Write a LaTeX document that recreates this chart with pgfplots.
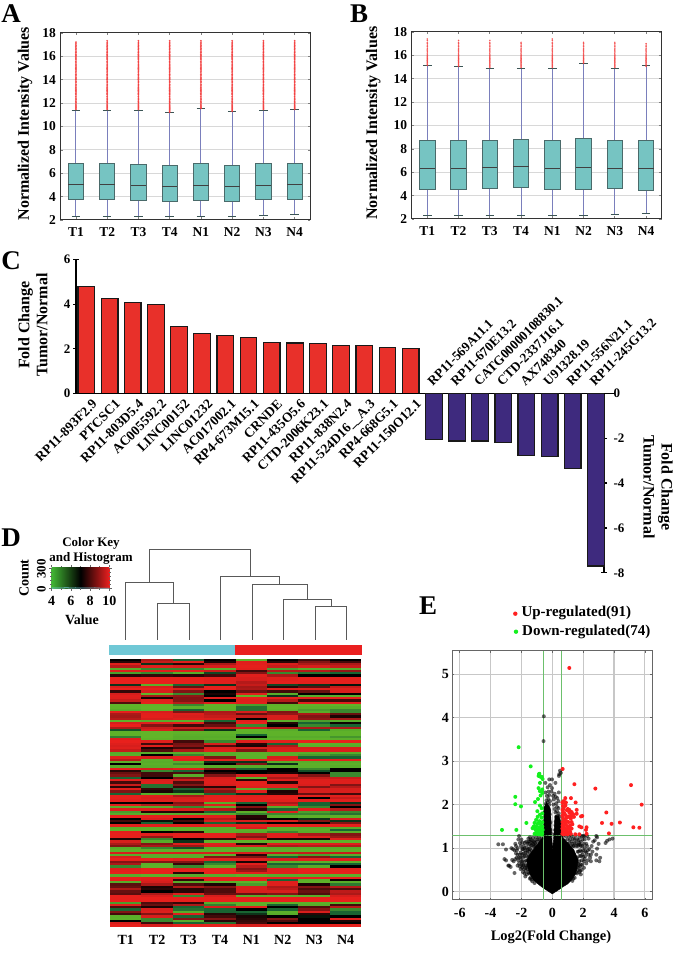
\documentclass[border=0pt]{standalone}
\usepackage{fontspec}
\usepackage{pgfplots}
\usepackage{pgfplotstable}
\pgfplotsset{compat=1.18}
\usepgfplotslibrary{statistics}
\setmainfont{Liberation Serif}
\newcommand\fs[1]{\fontsize{#1}{#1}\selectfont\bfseries}
\definecolor{boxfill}{HTML}{76C4C2}
\definecolor{boxedge}{HTML}{4A6A6A}
\definecolor{whisk}{HTML}{7A7FBC}
\definecolor{barred}{HTML}{E8302A}
\definecolor{barblue}{HTML}{3E2A7E}
\definecolor{gridg}{HTML}{D8D8D8}
\definecolor{outl}{HTML}{F23A3A}
\definecolor{volgreen}{HTML}{6CC06C}
\definecolor{keygreen}{HTML}{42B534}
\definecolor{annocyan}{HTML}{70C8D6}
\definecolor{annored}{HTML}{EA2020}
\definecolor{dotred}{HTML}{FF2020}
\definecolor{dotgreen}{HTML}{14F01E}
\pgfdeclareplotmark{cell}{\pgfpathrectangle{\pgfqpoint{-15.8pt}{-1.25pt}}{\pgfqpoint{31.6pt}{2.5pt}}\pgfusepathqfill}
\pgfdeclareplotmark{dot}{\pgfpathcircle{\pgfpointorigin}{\pgfplotmarksize}\pgfusepathqfill}
\pgfplotsset{
  boxplot/draw/lower whisker/.code={
    \draw[whisk,line width=1pt] (boxplot box cs:\pgfplotsboxplotvalue{lower whisker},0.5) -- (boxplot box cs:\pgfplotsboxplotvalue{lower quartile},0.5);
    \draw[boxedge!80!black,line width=.8pt] (boxplot whisker cs:\pgfplotsboxplotvalue{lower whisker},0) -- (boxplot whisker cs:\pgfplotsboxplotvalue{lower whisker},1);},
  boxplot/draw/upper whisker/.code={
    \draw[whisk,line width=1pt] (boxplot box cs:\pgfplotsboxplotvalue{upper whisker},0.5) -- (boxplot box cs:\pgfplotsboxplotvalue{upper quartile},0.5);
    \draw[boxedge!80!black,line width=.8pt] (boxplot whisker cs:\pgfplotsboxplotvalue{upper whisker},0) -- (boxplot whisker cs:\pgfplotsboxplotvalue{upper whisker},1);},
  mybox/.style={
    scale only axis, width=250pt, height=187pt,
    xmin=-0.5, xmax=7.5, ymin=2, ymax=18,
    xtick={0,...,7}, xticklabels={T1,T2,T3,T4,N1,N2,N3,N4},
    ytick={2,4,...,18},
    ymajorgrids, grid style={gridg,line width=1pt},
    axis line style={black!80,line width=1pt},
    tick style={black!50,line width=.7pt},
    major tick length=2.5pt,
    /pgf/number format/assume math mode=true,
    tick label style={font=\fs{13.5}},
    xticklabel style={yshift=-4.5pt},
    yticklabel style={xshift=-1pt},
    boxplot/draw direction=y,
    boxplot/box extend=0.49, boxplot/whisker extend=0.27,
    boxplot/every box/.style={draw=boxedge,fill=boxfill,line width=.9pt},
    boxplot/every median/.style={draw=black!75,line width=.9pt},
    clip=false,
  },
}
\newcommand\bx[6]{\addplot[boxplot prepared={draw position=#1,lower whisker=#2,lower quartile=#3,median=#4,upper quartile=#5,upper whisker=#6}] coordinates {};}
\newcommand\outp[4]{\addplot[only marks,mark=dot,mark size=.95pt,color=outl,mark options={fill=outl,fill opacity=.9},restrict y to domain=#3:#4] table[x expr=#2,y=v] {#1};}
\newcommand\outq[4]{\addplot[only marks,mark=dot,mark size=.85pt,color=outl,mark options={fill=outl,fill opacity=.85},restrict y to domain=#3:#4] table[x expr=#2,y=v] {#1};}
\pgfplotstableread{
v
11.22 
11.30 
11.38 
11.46 
11.55 
11.63 
11.72 
11.80 
11.90 
12.00 
12.08 
12.15 
12.26 
12.34 
12.42 
12.53 
12.60 
12.72 
12.80 
12.88 
13.00 
13.08 
13.16 
13.27 
13.35 
13.46 
13.54 
13.62 
13.74 
13.82 
13.90 
14.02 
14.10 
14.20 
14.31 
14.40 
14.47 
14.58 
14.68 
14.76 
14.88 
14.96 
15.05 
15.16 
15.25 
15.33 
15.44 
15.52 
15.60 
15.72 
15.80 
15.88 
16.00 
16.07 
16.16 
16.28 
16.35 
16.44 
16.55 
16.62 
16.70 
16.80 
16.88 
16.96 
17.05 
17.14 
17.22 
17.34 
}\outA
\pgfplotstableread{
v
14.95
15.05
15.14
15.22
15.32
15.40
15.48
15.56
15.66
15.74
15.80
15.90
16.00
16.10
16.20
16.30
16.40
16.52
16.62
16.75
16.88
17.00
17.12
17.28
17.40
}\outB
\pgfplotstableread{
c0 c1 c2 c3 c4 c5 c6 c7
7 8.5 6 7 4.5 7 7.5 7
7.3 8.8 9.5 7.2 9.5 7.3 8 7.5
9.5 6.5 7.3 8.5 9.6 9 8.5 8.5
8.6 9.6 9 9 9.8 8.8 9 8.8
5 5.5 5.5 4.8 9.6 5.2 5 5
9.2 9.6 9.6 8.8 7.5 8.6 8.6 8.2
5.2 5.5 5 6.3 8 5.5 5.8 6
7.3 7.4 7.3 7.5 9.5 8.5 7 7
10 10 10 9.6 9 9.6 10 9.8
10 10 10 9.6 9 9.6 10 9.8
10 10 10 9.6 8.6 9.8 9.8 9.8
6.5 4.8 6 6.5 8.8 6.3 6.5 6.8
9 9 7.8 9.8 8.4 7.3 7.7 8.8
10 9.8 9 9.8 8.5 9.4 9.5 9.4
7.4 9 8 7 7.8 7.5 7.8 9
9 4.5 5.5 7.2 9.5 5 7 7
9.6 8.5 8.2 7 4.5 6.5 5 4.8
9.4 7.2 8 9.6 9.8 9.8 9.6 9.8
8.8 9.6 8 7 9.4 8.6 7.5 7.5
7.6 9.8 8.6 9.4 9.6 7.5 9.8 9.6
4.5 4.5 5.5 4.5 5.2 4.5 4.5 4.5
4.6 4.4 4.8 4.6 5.8 4.4 4.8 5
5 4.5 6 4.7 5.8 4.6 5.2 5.5
9.8 9 8 8.5 9 8 5 5.5
8.5 9.6 9.4 8.6 7.8 8.2 8.5 7.8
8.4 9.7 9 8.8 8.8 9 8 7.2
8.6 9 9.5 9.2 7 9 8.2 8.4
4.6 5 4.8 6 9.5 4.8 5.2 5
9 9.5 9.8 7.5 10 7.3 6 7.1
10 8 7.5 7.8 5.5 7 5.5 6
8.5 8.8 8.8 8.8 9 8.5 8.5 8.5
6.2 9 8 6.5 4.5 5 6 5
4.6 4.4 4.6 4.6 4.6 4.6 4.6 4.6
4.6 4.4 4.8 4.8 6 4.6 4.6 4.6
5.6 4.4 5 5 7 5 5 5.3
9.5 4.6 5 4.8 5 4.6 4.6 4.8
10 9.6 7.5 5.5 9.5 9.8 10 10
9.5 7.5 7.9 9 7.3 6 4.6 4.8
9 9.5 8 7.6 7.2 8.5 4.8 5
9.5 7.2 7.5 9 9 9 9 9
8.8 7.6 8.5 9.5 8 9.2 9.3 9.2
5 5 5 5 4.8 5 5 5
4.8 7 5.5 5 4.7 5 5.2 5.5
9.6 9 10 8 4.8 9 6 6
8.6 4.8 9.6 9.8 9.8 9.8 9.8 9.8
4.7 5 5 6.5 6.5 5 5 5
7 4.8 5.4 7 8 6.5 4.7 4.7
5 5 4.8 5 5 4.8 4.8 5
10 9 9.8 8 6 7 5.5 7
7.3 5.5 6 7 7 7 6.2 7
7.8 7.5 7.6 7.3 7 7.2 7 5.5
8 7.5 5 8 9 9 8 5.5
6 7 8 9 4.6 8.5 8.8 8.8
9.6 9.2 8.8 9.4 7.3 9.4 9.4 9.4
7.5 9.4 7.6 9.4 9.8 7.3 9.5 9.5
8.8 5.8 8 9 9.8 9.6 9.2 8
7.3 5.8 7.4 7.3 9.4 9.7 8 8.6
9.4 7.4 6 8.5 4.8 5.5 9 9
8 7.2 6.5 8 9.5 7.2 9 9
6 5 5 6 6.5 7.3 7.8 7.5
10 9.5 8.5 9.8 9.6 9.8 9.8 9.6
10 9.2 9 10 9.8 10 7 8.8
9.7 9.4 9.3 10 9.8 9.7 9.7 9.7
7 7 8 5 6 8.5 6 6.5
9.5 8.6 8.4 9.4 7 9 6 8
5 5 5.5 5 8 5 5.5 7
9.3 9.4 9 8.6 7.3 6 9.5 8.6
5.2 7.3 7.3 6 4.7 9.5 5.2 5.5
5 4.8 5 5 5.5 5.5 5.5 5.8
10 9.9 9.9 9.6 7.3 5 4.7 4.7
7 9 7 8.6 7.2 7 6.5 9
7.5 6.8 7.5 9 9 9 8 6.5
7 6 7 6 6.5 7 7 8
9.6 9.6 9.6 9.4 9.8 9.8 9.8 9.8
4.8 4.7 4.7 4.8 9 4.8 5 5
4.6 4.6 4.6 4.8 4.8 4.8 4.8 6
9.6 7 7.3 4.8 5 5.5 5 5
9.8 9.6 9.8 9.8 8.5 9.5 8.5 8
9.8 8.2 9.7 9.8 8 9.6 9.3 8.3
7.2 5.5 7 7.4 9 7.2 7.2 9.5
9 5 6.5 4.6 4.6 4.6 4.6 4.6
8.5 8 9.3 9.4 7.3 9.5 9.5 9.5
8 8.5 8.3 9 9 8.5 8.6 8.6
5 5.5 6.2 5 4.8 5 5 5
4.7 4.7 4.7 4.7 5 4.7 4.7 4.7
9 9 9 9 9 8.8 8.8 8.8
5 5 5 4.8 7.3 5 5.2 5
9 5 5 8 8 6 8 6
10 10 9.5 9.6 9.5 9 9.6 9.6
8 8 8 6 7.2 4.8 4.8 4.8
8.5 4.8 7.4 5.5 9.6 6 6 6
5.5 4.6 5.5 4.7 8.6 5.5 5 7
9.5 10 9.5 10 8 9.5 9.8 9.8
9.6 10 9.8 10 8.3 9.4 10 9.7
9.8 10 7.3 10 9.8 9.6 9.8 9.8
5 4.7 5 5 4.7 5 5 4.8
10 9.7 10 10 10 10 10 10
9.8 9.5 7.4 9.8 9.8 6 4.8 7.1
5 9 5 4.7 4.6 9.5 4.6 5
7.7 8.5 7.6 7.2 5.2 9.5 7.2 5.7
7.8 7.2 8.5 8 9.2 8.5 8 8.6
8.5 7.3 7.3 7.6 9.2 8.7 7.6 7.6
7.8 7 7.3 7.6 9 9 7.8 8.7
7.7 8.5 9.4 7.8 7.8 8 7.6 8.5
10 9 5.5 9 5 5 5 9
10 10 10 10 10 10 10 10
10 10 10 10 9.9 10 10 10
5.2 7.6 7.4 5 4.7 4.7 4.8 4.6
9.4 7.8 8.5 5.6 4.8 6 5 7.5
7.6 7.2 6 9 9.6 7 7.6 8.6
6 9 5.8 6 7 6 8 5.5
8 9.3 5 6 6 4.8 9 6
7.5 8 9.3 7.3 6.5 5 7.3 6
4.8 9 6 7.5 7.2 7 6.8 7
4.7 5.5 8 8 7.3 8 7 9.5
7 5.5 5 7.3 7.4 7.6 7 7.2
9 7.5 6 5.8 7.5 7 7 7
10 9 9.8 9.8 9 9.6 9.8 9.8
}\heat
\begin{document}
\begin{tikzpicture}[x=1pt,y=1pt]
\useasboundingbox (0,0) rectangle (685pt,958pt);
% Panel A
\begin{axis}[mybox, at={(60.3pt,738pt)}, anchor=south west,
  ylabel={Normalized Intensity Values},
  y label style={font=\fs{16},at={(axis description cs:-0.141,0.514)},anchor=center}]
\outp{\outA}{0}{11.40}{17.30}
\outp{\outA}{1}{11.40}{17.35}
\outp{\outA}{2}{11.40}{17.35}
\outp{\outA}{3}{11.20}{17.35}
\outp{\outA}{4}{11.55}{17.35}
\outp{\outA}{5}{11.25}{17.35}
\outp{\outA}{6}{11.40}{17.35}
\outp{\outA}{7}{11.45}{17.35}
\bx{0}{2.31}{3.77}{5.06}{6.86}{11.40}
\bx{1}{2.31}{3.77}{5.05}{6.83}{11.40}
\bx{2}{2.31}{3.70}{4.97}{6.77}{11.40}
\bx{3}{2.31}{3.60}{4.90}{6.65}{11.17}
\bx{4}{2.31}{3.70}{4.97}{6.85}{11.55}
\bx{5}{2.31}{3.60}{4.90}{6.70}{11.25}
\bx{6}{2.40}{3.75}{4.97}{6.83}{11.40}
\bx{7}{2.50}{3.80}{5.05}{6.86}{11.45}
\end{axis}
% Panel B
\begin{axis}[mybox, at={(411.7pt,739pt)}, anchor=south west,
  ylabel={Normalized Intensity Values},
  y label style={font=\fs{16},at={(axis description cs:-0.154,0.513)},anchor=center}]
\outq{\outB}{0}{15.10}{17.45}
\outq{\outB}{1}{15.05}{17.35}
\outq{\outB}{2}{14.90}{17.35}
\outq{\outB}{3}{14.90}{17.25}
\outq{\outB}{4}{14.90}{17.45}
\outq{\outB}{5}{15.30}{17.25}
\outq{\outB}{6}{14.90}{17.15}
\outq{\outB}{7}{15.05}{17.05}
\bx{0}{2.31}{4.49}{6.34}{8.74}{15.17}
\bx{1}{2.31}{4.54}{6.34}{8.74}{15.09}
\bx{2}{2.34}{4.63}{6.43}{8.74}{14.91}
\bx{3}{2.34}{4.69}{6.46}{8.77}{14.91}
\bx{4}{2.31}{4.54}{6.34}{8.71}{14.91}
\bx{5}{2.31}{4.54}{6.43}{8.89}{15.34}
\bx{6}{2.43}{4.60}{6.34}{8.74}{14.91}
\bx{7}{2.49}{4.46}{6.29}{8.74}{15.11}
\end{axis}
% Panel C upper
\begin{axis}[at={(76pt,564.7pt)}, anchor=south west, scale only axis, width=528pt, height=133.6pt,
  xmin=-0.45, xmax=22.35, ymin=0, ymax=6,
  axis y line=left, axis x line=bottom, axis line style={-,black,line width=1.5pt},
  xtick={0,...,14},
  xticklabels={RP11-893F2.9,PTCSC1,RP11-803D5.4,AC005592.2,LINC00152,LINC01232,AC017002.1,RP4-673M15.1,CRNDE,RP11-435O5.6,CTD-2006K23.1,RP11-838N2.4,RP11-524D16\_\_A.3,RP4-668G5.1,RP11-150O12.1},
  ytick={0,2,4,6},
  x tick style={draw=none}, y tick style={black,line width=1.2pt}, major tick length=6pt,
  /pgf/number format/assume math mode=true,
  yticklabel style={font=\fs{13},xshift=1pt},
  xticklabel style={font=\fs{13.5},rotate=45,anchor=north east,inner sep=0pt,xshift=4pt,yshift=-3pt},
  ybar, bar width=16.7pt, clip=false]
\addplot[fill=barred,draw=black!90,line width=1.2pt,bar shift=0pt] coordinates {(0,4.79)(1,4.27)(2,4.06)(3,4.00)(4,2.99)(5,2.68)(6,2.59)(7,2.51)(8,2.27)(9,2.26)(10,2.22)(11,2.16)(12,2.14)(13,2.04)(14,2.02)};
\end{axis}
% Panel C lower
\begin{axis}[at={(76pt,385.2pt)}, anchor=south west, scale only axis, width=528pt, height=179.5pt,
  xmin=-0.45, xmax=22.35, ymin=-8, ymax=0,
  axis y line=right, axis x line=top, axis line style={-,black,line width=1.5pt},
  xtick={15,...,22},
  xticklabels={RP11-569A11.1,RP11-670E13.2,CATG00000108830.1,CTD-2337J16.1,AX748340,U91328.19,RP11-556N21.1,RP11-245G13.2},
  ytick={-8,-6,-4,-2,0},
  x tick style={draw=none}, y tick style={black,line width=1.2pt}, major tick length=6pt,
  /pgf/number format/assume math mode=true,
  yticklabel style={font=\fs{13},xshift=3pt},
  xticklabel style={font=\fs{13.2},rotate=45,anchor=south west,inner sep=0pt,xshift=0pt,yshift=1pt},
  ybar, bar width=16.7pt, clip=false]
\addplot[fill=barblue,draw=black!90,line width=1.2pt,bar shift=0pt] coordinates {(15,-2.05)(16,-2.13)(17,-2.13)(18,-2.19)(19,-2.77)(20,-2.83)(21,-3.35)(22,-7.7)};
\end{axis}
% Panel D heatmap
\begin{axis}[at={(110pt,31.3pt)}, anchor=south west, scale only axis, width=251.3pt, height=268pt,
  xmin=-0.5, xmax=7.5, ymin=0, ymax=118, y dir=reverse,
  axis line style={draw=none}, major tick length=0pt, ytick=\empty,
  xtick={0,...,7}, xticklabels={T1,T2,T3,T4,N1,N2,N3,N4},
  xticklabel style={font=\fs{14},yshift=-5pt},
  colormap={hm}{rgb255(0cm)=(104,186,40); rgb255(1cm)=(88,172,42); rgb255(2cm)=(25,100,50); rgb255(3cm)=(0,0,0); rgb255(4cm)=(130,20,20); rgb255(5cm)=(215,30,28); rgb255(6cm)=(232,32,28)},
  point meta min=4, point meta max=10, clip=false]
\pgfplotsinvokeforeach{0,...,7}{
\addplot[scatter,only marks,mark=cell,scatter src=explicit,scatter/use mapped color={draw=none,fill=mapped color}] table[x expr=#1,y expr=\coordindex+0.5,meta=c#1] {\heat};
}
\end{axis}
% Colour key
\begin{axis}[at={(51.7pt,369.7pt)}, anchor=south west, scale only axis, width=57.6pt, height=21pt,
  xmin=4, xmax=10, ymin=0, ymax=310, axis on top,
  xtick={4,6,8,10}, ytick={0,300}, minor y tick num=4, minor x tick num=1,
  axis line style={draw=none}, tick style={black!60,line width=.7pt},
  tick align=outside, major tick length=2.5pt, minor tick length=1.5pt,
  x tick label style={font=\fs{14},yshift=-2pt},
  y tick label style={font=\fs{13},rotate=90,anchor=south,xshift=-1pt},
  /pgf/number format/assume math mode=true,
  ]
\fill[left color=keygreen,right color=annored,middle color=black] (axis cs:4,0) rectangle (axis cs:10,310);
\addplot[annocyan,line width=.8pt] coordinates {(4,2)(4.5,5)(5,3)(5.5,8)(6,4)(6.5,6)(7,3)(7.5,5)(8,3)(8.5,6)(9,2)(10,2)};
\end{axis}
% Panel E
\begin{axis}[at={(452.3pt,58pt)}, anchor=south west, scale only axis, width=200pt, height=249pt,
  xmin=-6.48, xmax=6.48, ymin=-0.19, ymax=5.53,
  xtick={-6,-4,-2,0,2,4,6}, ytick={0,1,2,3,4,5},
  grid=major, grid style={black!22,line width=1.1pt},
  axis line style={black!60,line width=1pt}, tick style={black!60,line width=.7pt}, major tick length=2pt,
  /pgf/number format/assume math mode=true,
  tick label style={font=\fs{14}},
  xticklabel style={yshift=-4.5pt}, clip=true]
\addplot[fill=black,draw=black] coordinates {(0,-0.05)(-.35,0.03)(-.7,.115)(-1.0,.2)(-1.23,.27)(-1.45,.4)(-1.55,.5)(-1.66,.72)(-1.5,.85)(-1.25,.96)(-.95,1.1)(-.62,1.25)(-.58,1.9)(-.38,2.05)(-.12,1.9)(-.05,1.3)(0.02,.95)(.1,1.3)(.18,1.75)(.42,1.75)(.58,1.55)(.66,1.25)(1.0,1.12)(1.4,.96)(1.68,.73)(1.58,.5)(1.45,.38)(1.25,.27)(1.0,.18)(.7,.115)(.35,.03)} -- cycle;
\addplot[only marks,mark=dot,mark size=2pt,mark options={fill=black,fill opacity=.6}] coordinates {
(-3.5,1.09)(-3.2,1.09)(-3.0,.97)(-3.1,.75)(-3.0,.72)(-2.85,.6)(-2.8,.6)(-2.7,.57)(-2.45,.43)(-2.6,.73)(-2.5,.7)(-2.65,1.0)(-2.55,.98)(-2.3,.95)(-2.25,1.0)(-2.2,1.2)(-2.15,1.28)(-2.1,1.12)(-2.05,1.05)(-2.35,.88)(-2.3,.78)(-2.25,.6)(-2.15,.65)(-2.05,.52)(-1.95,.85)(-1.9,.78)(-1.85,.6)(-1.8,.42)(-1.75,.35)(-1.85,1.05)(-1.7,1.15)(-1.65,1.02)(-1.6,.95)(-1.75,.9)(-1.7,.72)(-1.6,.62)(-1.55,1.22)(-1.5,1.1)(-1.45,1.25)(-1.4,1.05)(-1.9,.45)(-2.0,.7)(-1.55,.45)(-1.65,.4)(-1.45,.3)(-1.35,.95)(-1.3,1.12)(-1.25,1.24)(-1.15,1.18)(-1.05,1.25)(-.95,1.2)(-.85,1.27)(-.75,1.15)(-1.1,1.08)(-1.2,1.03)(-1.45,.98)(-1.55,.8)(-1.8,.68)(-1.75,.55)(-1.6,.52)(-2.1,.85)(-2.2,.72)(-1.4,.32)(-1.3,.24)(-1.15,.2)
(-2.4,1.1)(-2.45,.95)(-2.35,1.05)(-2.0,1.2)(-1.95,1.13)(-1.9,.98)(-1.8,1.0)(-1.8,.82)(-1.78,1.12)(-1.6,1.1)(-1.55,.98)(-1.5,.92)(-1.45,1.15)(-1.35,1.18)(-1.25,1.1)(-1.15,1.05)(-1.6,.88)(-1.62,.72)(-1.7,.6)(-1.72,.48)(-1.9,.62)(-1.95,.55)(-1.85,.52)(-2.1,.58)(-2.0,.62)(-2.15,.78)(-2.05,.9)(-2.05,.78)(-1.95,.7)(-1.7,.82)(-1.65,.55)(-1.55,.6)(-1.5,.42)(-1.4,.45)(-1.35,.28)(-1.75,.95)(-1.95,.98)(-2.25,.85)(-2.4,.75)(-1.85,.88)(-1.55,1.15)(-1.35,1.07)(-1.1,1.12)(-1.0,1.15)(-.85,1.2)(-.7,1.22)(-1.2,1.15)(-1.4,1.2)
(3.9,1.22)(3.7,1.2)(3.55,1.17)(3.45,1.12)(3.0,1.1)(2.85,1.28)(2.9,1.25)(2.9,.99)(2.85,.85)(3.1,.78)(3.05,.7)(2.85,.72)(2.5,.85)(2.45,.78)(2.5,.7)(2.65,1.15)(2.35,1.22)(2.25,1.28)(2.15,.92)(2.2,.65)(2.05,.55)(1.8,.48)(1.85,.62)(2.2,1.1)(2.1,1.2)(2.0,1.28)(1.95,1.05)(1.85,1.15)(1.75,1.25)(1.7,1.08)(1.6,1.2)(1.5,1.28)(1.45,1.12)(1.35,1.22)(1.25,1.28)(1.15,1.2)(1.1,1.28)(1.95,.85)(1.9,.72)(1.8,.95)(1.75,.82)(1.72,.62)(1.65,.92)(1.6,.78)(1.55,1.05)(1.4,1.05)(1.3,1.1)(1.2,1.05)(1.0,1.2)(.9,1.27)(.8,1.18)(.7,1.28)(1.65,.5)(1.6,.42)(1.45,.32)(1.3,.25)(2.1,.75)(1.85,.4)
(1.85,1.05)(1.95,1.2)(2.05,1.1)(2.1,1.0)(2.0,.95)(2.25,1.05)(2.3,.95)(2.35,.85)(2.4,.98)(2.55,1.05)(1.9,.92)(1.8,1.08)(1.7,1.18)(1.65,1.05)(1.55,1.12)(1.45,1.2)(1.35,1.05)(1.25,1.15)(1.1,1.12)(1.0,1.1)(1.7,.92)(1.75,.7)(1.8,.58)(1.7,.55)(1.65,.65)(1.6,.58)(1.55,.45)(1.45,.42)(1.35,.3)(2.0,.8)(2.05,.7)(2.15,.82)(2.2,.9)(1.95,.62)(1.9,.5)(1.85,.82)(1.75,.45)(2.3,.72)(2.6,.92)(2.75,1.18)(2.1,1.28)(1.9,1.28)(1.75,1.12)
(-.5,1.32)(-.4,1.35)(-.3,1.33)(-.2,1.36)(-.1,1.34)(-.52,1.42)(-.42,1.45)(-.33,1.43)(-.22,1.47)(-.12,1.42)(-.47,1.53)(-.37,1.55)(-.28,1.52)(-.18,1.57)(-.5,1.62)(-.4,1.65)(-.3,1.63)(-.2,1.66)(-.12,1.6)(-.45,1.72)(-.35,1.75)(-.25,1.73)(-.16,1.78)(-.5,1.82)(-.4,1.85)(-.3,1.83)(-.2,1.87)(-.45,1.92)(-.33,1.95)(-.25,1.93)(-.42,2.02)(-.3,2.05)(-.2,2.0)(-.38,2.1)(-.25,2.13)(-.15,2.08)(-.35,2.2)(-.2,2.22)(-.45,2.28)(-.25,2.3)(-.3,2.4)(-.05,2.3)(-.15,2.45)(-.2,2.58)(-.45,2.5)(-.55,4.03)(-.57,3.46)
(.15,1.32)(.25,1.35)(.35,1.33)(.45,1.36)(.55,1.33)(.18,1.42)(.28,1.45)(.38,1.43)(.5,1.46)(.2,1.53)(.3,1.55)(.42,1.52)(.54,1.56)(.22,1.62)(.33,1.65)(.45,1.63)(.25,1.72)(.36,1.75)(.48,1.72)(.2,1.82)(.3,1.85)(.42,1.8)(.15,1.9)(.3,1.95)(.4,1.92)(.08,2.0)(.25,2.03)(.4,2.08)(.1,2.12)(.22,2.18)(.32,2.15)(.05,2.2)(.42,2.28)(.15,2.25)(-.02,2.38)(.45,2.7)(.5,2.78)(.43,2.66)(.55,2.73)(.2,2.5)(-.02,2.58)};
\addplot[only marks,mark=dot,mark size=2pt,mark options={fill=dotred}] coordinates {
(1.10,5.14)(.67,2.82)(1.43,2.47)(2.79,2.37)(5.10,2.45)(5.79,2.0)(3.50,1.82)(1.51,2.05)(1.21,2.15)(.84,2.15)(4.38,1.59)(3.84,1.56)(3.22,1.58)(5.25,1.48)(5.64,1.47)(3.67,1.34)(2.22,1.48)(2.18,1.42)(1.94,1.74)(1.86,1.73)(1.75,1.5)(1.88,1.48)(2.22,1.33)(1.75,1.32)(1.49,1.32)(1.58,1.88)(1.58,1.79)(.65,2.05)(.72,2.08)(.8,2.06)(.88,2.05)(.68,1.97)(.75,1.95)(.85,1.98)(.66,1.88)(.73,1.9)(1.0,1.9)(1.1,1.88)(.95,1.87)(.7,1.82)(.78,1.8)(1.1,1.82)(1.25,1.83)(.66,1.75)(.85,1.76)(1.05,1.73)(1.2,1.75)(1.35,1.78)(.7,1.68)(.8,1.66)(.95,1.7)(1.2,1.68)(1.4,1.72)(.66,1.6)(.77,1.6)(.9,1.62)(1.05,1.6)(1.25,1.6)(.66,1.52)(.75,1.52)(.88,1.54)(1.0,1.5)(1.15,1.52)(1.3,1.55)(.65,1.45)(.72,1.44)(.82,1.46)(.95,1.43)(1.08,1.46)(1.25,1.45)(.68,1.38)(.8,1.37)(.9,1.38)(1.02,1.37)(1.15,1.38)(.65,1.33)(.75,1.32)(.85,1.33)(1.0,1.32)(1.2,1.33)};
\addplot[only marks,mark=dot,mark size=2pt,mark options={fill=dotgreen}] coordinates {
(-2.18,3.32)(-1.40,2.88)(-.84,2.71)(-.89,2.66)(-.69,2.64)(-.63,2.59)(-.86,2.70)(-.76,2.64)(-.8,2.5)(-.89,2.38)(-.8,2.31)(-.65,2.35)(-.65,2.27)(-.76,2.21)(-.93,2.13)(-1.12,2.06)(-2.4,2.18)(-2.4,2.01)(-2.03,1.96)(-.8,1.98)(-.97,1.85)(-.69,1.92)(-1.68,1.58)(-3.26,1.42)(-2.33,1.42)(-.65,1.8)(-.8,1.77)(-.95,1.72)(-.7,1.7)(-1.05,1.65)(-.85,1.62)(-.65,1.6)(-1.15,1.58)(-.95,1.56)(-.75,1.55)(-1.2,1.5)(-1.05,1.5)(-.85,1.48)(-.65,1.5)(-1.28,1.46)(-1.1,1.43)(-.95,1.42)(-.75,1.42)(-.62,1.42)(-1.05,1.36)(-.9,1.35)(-.75,1.36)(-.65,1.34)(-1.15,1.33)(-.95,1.32)(-.8,1.32)(-.68,1.31)};
\addplot[volgreen,line width=1pt] coordinates {(-.585,-.19)(-.585,5.53)};
\addplot[volgreen,line width=1pt] coordinates {(.585,-.19)(.585,5.53)};
\addplot[volgreen,line width=1pt] coordinates {(-6.48,1.3)(6.48,1.3)};
\end{axis}
% Overlay in pixel coordinates
\begin{axis}[at={(0pt,0pt)}, anchor=south west, scale only axis, width=685pt, height=958pt,
  xmin=0, xmax=685, ymin=0, ymax=958, y dir=reverse, hide axis, clip=false]
% extension of the x line of panel C
\addplot[black,line width=1.5pt] coordinates {(604,393.3)(614.5,393.3)};
% dendrogram
\addplot[black!65,line width=1pt] coordinates {(157.3,639.7)(157.3,603.3)(189,603.3)(189,639.7)};
\addplot[black!65,line width=1pt] coordinates {(125.7,639.7)(125.7,582.7)(173.2,582.7)(173.2,603.3)};
\addplot[black!65,line width=1pt] coordinates {(315,639.7)(315,606.3)(346.7,606.3)(346.7,639.7)};
\addplot[black!65,line width=1pt] coordinates {(283.3,639.7)(283.3,599.7)(331,599.7)(331,606.3)};
\addplot[black!65,line width=1pt] coordinates {(252,639.7)(252,584)(307,584)(307,599.7)};
\addplot[black!65,line width=1pt] coordinates {(220.3,639.7)(220.3,576.3)(279.3,576.3)(279.3,584)};
\addplot[black!65,line width=1pt] coordinates {(149.4,582.7)(149.4,549.3)(250,549.3)(250,576.3)};
% annotation bar
\addplot[fill=annocyan,draw=none] coordinates {(109.3,645)(235,645)(235,655.3)(109.3,655.3)} -- cycle;
\addplot[fill=annored,draw=none] coordinates {(235,645)(361.7,645)(361.7,655.3)(235,655.3)} -- cycle;
% legend dots of panel E
\addplot[only marks,mark=dot,mark size=2.2pt,mark options={fill=dotred}] coordinates {(515.3,613.7)};
\addplot[only marks,mark=dot,mark size=2.2pt,mark options={fill=dotgreen}] coordinates {(516,631.7)};
% text
\node[font=\fs{27},anchor=center] at (axis cs:11,14) {A};
\node[font=\fs{27},anchor=center] at (axis cs:359,14) {B};
\node[font=\fs{27},anchor=center] at (axis cs:11,261) {C};
\node[font=\fs{27},anchor=center] at (axis cs:11,538) {D};
\node[font=\fs{27},anchor=center] at (axis cs:428,606) {E};
\node[font=\fs{16},rotate=90,align=center] at (axis cs:33,325) {Fold Change\\[2pt]Tumor/Normal};
\node[font=\fs{16},rotate=-90,align=center] at (axis cs:658,487) {Fold Change\\[2pt]Tumor/Normal};
\node[font=\fs{13},align=center] at (axis cs:91,551) {Color Key\\[2pt]and Histogram};
\node[font=\fs{14}] at (axis cs:82,620) {Value};
\node[font=\fs{14},rotate=90] at (axis cs:24,578) {Count};
\node[font=\fs{15},anchor=west,inner sep=0pt] at (axis cs:521.3,613) {Up-regulated(91)};
\node[font=\fs{15},anchor=west,inner sep=0pt] at (axis cs:522,632) {Down-regulated(74)};
\node[font=\fs{14.5}] at (axis cs:551,937) {Log2(Fold Change)};
\end{axis}
\end{tikzpicture}
\end{document}
